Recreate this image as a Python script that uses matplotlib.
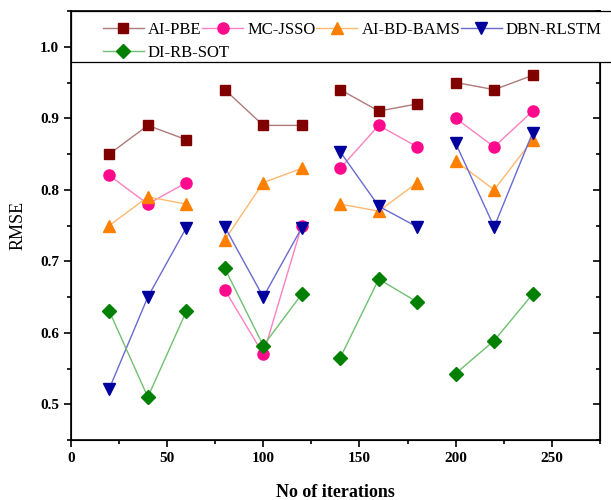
import matplotlib
matplotlib.use("Agg")
import matplotlib.pyplot as plt
from matplotlib.ticker import MultipleLocator
from matplotlib.patches import Rectangle

plt.rcParams['font.family'] = ['Liberation Serif', 'DejaVu Serif']

# iteration groups (lines only join points within a group)
groups = [[20, 40, 60], [80, 100, 120], [140, 160, 180], [200, 220, 240]]

ai_pbe = [0.85, 0.89, 0.87, 0.94, 0.89, 0.89, 0.94, 0.91, 0.92, 0.95, 0.94, 0.96]
mc_jsso = [0.82, 0.78, 0.81, 0.66, 0.57, 0.75, 0.83, 0.89, 0.86, 0.90, 0.86, 0.91]
ai_bd_bams = [0.75, 0.79, 0.78, 0.73, 0.81, 0.83, 0.78, 0.77, 0.81, 0.84, 0.80, 0.87]
dbn_rlstm = [0.522, 0.65, 0.747, 0.748, 0.65, 0.747, 0.853, 0.777, 0.748, 0.865, 0.748, 0.88]
di_rb_sot = [0.63, 0.51, 0.63, 0.69, 0.582, 0.654, 0.565, 0.675, 0.643, 0.543, 0.589, 0.654]

names = ['AI-PBE', 'MC-JSSO', 'AI-BD-BAMS', 'DBN-RLSTM', 'DI-RB-SOT']
series = [ai_pbe, mc_jsso, ai_bd_bams, dbn_rlstm, di_rb_sot]
markers = ['s', 'o', '^', 'v', 'D']
mcolors = ['#800000', '#ff0a8c', '#ff8000', '#00009c', '#008000']
lcolors = ['#b07a7a', '#ff80c0', '#ffb870', '#6a6ad0', '#70c070']
msizes = [7, 8, 8, 8, 7]

fig = plt.figure(figsize=(6.11, 5.0), dpi=100)
ax = fig.add_axes([0.116, 0.12, 0.866, 0.858])

handles = []
for name, vals, m, mc, lc, ms in zip(names, series, markers, mcolors, lcolors, msizes):
    for gi, g in enumerate(groups):
        ln, = ax.plot(g, vals[gi*3:gi*3+3], color=lc, lw=1.0, marker=m, ms=ms,
                      mfc=mc, mec=mc)
        if gi == 0:
            handles.append(ln)

ax.set_xlim(0, 275)
ax.set_ylim(0.45, 1.05)
ax.xaxis.set_major_locator(MultipleLocator(50))
ax.xaxis.set_minor_locator(MultipleLocator(25))
ax.yaxis.set_major_locator(MultipleLocator(0.1))
ax.yaxis.set_minor_locator(MultipleLocator(0.05))
ax.tick_params(which='both', direction='out', top=False, right=False, width=1.2)
ax.tick_params(which='major', length=5, labelsize=11)
ax.tick_params(which='minor', length=3)
for lab in ax.get_xticklabels() + ax.get_yticklabels():
    lab.set_fontweight('bold')
ax.yaxis.set_major_formatter(matplotlib.ticker.FormatStrFormatter('%.1f'))

# inward ticks on the right spine
axr = ax.twinx()
axr.set_ylim(ax.get_ylim())
axr.yaxis.set_major_locator(MultipleLocator(0.1))
axr.yaxis.set_minor_locator(MultipleLocator(0.05))
axr.tick_params(which='both', direction='in', labelright=False, width=1.2)
axr.tick_params(which='major', length=5)
axr.tick_params(which='minor', length=3)

for sp in ax.spines.values():
    sp.set_linewidth(1.2)

ax.set_xlabel('No of iterations', fontsize=13, fontweight='bold', labelpad=14)
ax.set_ylabel('RMSE', fontsize=13, labelpad=10)

# legend box (runs past the right spine to the image edge)
fig.patches.append(Rectangle((0.116, 0.876), 0.9, 0.102, transform=fig.transFigure,
                             fill=True, facecolor='white', edgecolor='black',
                             lw=0.9, zorder=5))

leg_kw = dict(loc='upper left', fontsize=12, frameon=False, borderaxespad=0,
              borderpad=0, handlelength=2.45, handletextpad=0.25,
              columnspacing=0.05)
leg1 = fig.legend(handles[:4], names[:4], ncol=4,
                  bbox_to_anchor=(103 / 611, 1 - 22 / 500), **leg_kw)
leg2 = fig.legend(handles[4:], names[4:], ncol=1,
                  bbox_to_anchor=(103 / 611, 1 - 45 / 500), **leg_kw)
leg1.set_zorder(6)
leg2.set_zorder(6)

fig.savefig('out.png', dpi=100)
